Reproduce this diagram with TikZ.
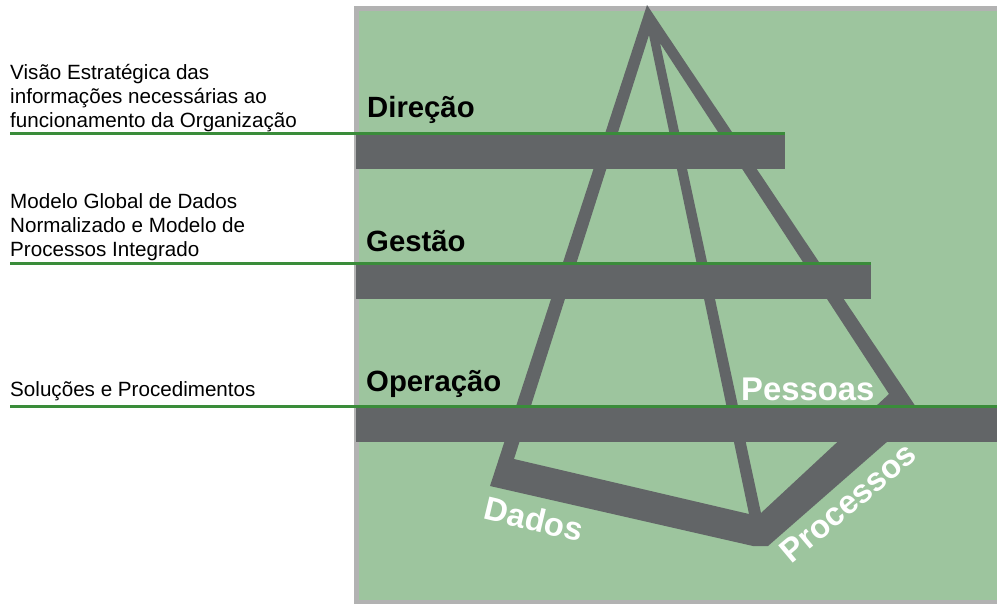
\documentclass[tikz,border=0pt]{standalone}
\usepackage{fontspec}
\setmainfont{Liberation Sans}
\usetikzlibrary{positioning}
\definecolor{panelgreen}{RGB}{157,197,158}
\definecolor{bargray}{RGB}{98,101,103}
\definecolor{rulegreen}{RGB}{58,140,58}
\definecolor{framegray}{RGB}{178,178,178}

\begin{document}
\begin{tikzpicture}[
    x=0.03cm, y=-0.03cm,
    note/.style={
		anchor=base west,
		inner sep=0,
		align=left,
		font=\fontsize{17.6}{20.6}\selectfont
	},
    level/.style={
		anchor=base west,
		inner sep=0,
		font=\fontsize{25}{28}\selectfont\bfseries
	},
    face/.style={
		inner sep=0,
		text=white,
		font=\fontsize{28}{32}\selectfont\bfseries
	},
    bar/.style={
		fill=bargray
	},
    rule/.style={
		draw=rulegreen,
		line width=0.08cm
	}
  ]
  \useasboundingbox (0,0) rectangle (997,603);

  % the green panel
  \fill[panelgreen] (356,9) rectangle (1003,603);
  \draw[framegray, line width=0.15cm] (356,8.6) rectangle (1003,602.6);

  % the pyramid
  \coordinate (apex) at (647,5);
  \coordinate (rfoot) at (920,413);
  \coordinate (mfootr) at (768,546);
  \coordinate (mfootl) at (753,546);
  \coordinate (lfoot) at (490,486);
  \coordinate (holeatop) at (649,35);
  \coordinate (holeal) at (514,459);
  \coordinate (holear) at (749,514);
  \coordinate (holebtop) at (660,43);
  \coordinate (holebl) at (761,513);
  \coordinate (holebr) at (889,394);
  \fill[bargray, even odd rule] (apex) -- (rfoot) -- (mfootr) -- (mfootl) -- (lfoot) -- cycle
    (holeatop) -- (holeal) -- (holear) -- cycle
    (holebtop) -- (holebl) -- (holebr) -- cycle;

  % the three levels
  \fill[bar] (356,134) rectangle (785,168.5);
  \fill[bar] (356,264) rectangle (871,299.3);
  \fill[bar] (356,407) rectangle (1003,441.7);
  \coordinate (dirend) at (785,133.3);
  \coordinate (gesend) at (871,263.3);
  \coordinate (opeend) at (1003,406.3);

  \node [level] (direcao) at (367,117.7) {Direção};
  \node [level] (gestao) at (366,251.7) {Gestão};
  \node [level] (operacao) at (366,391.7) {Operação};

  % notes on the left
  \node [note] (visao) at (10,127.5)
  {Visão Estratégica das\\informações necessárias ao\\funcionamento da Organização};
  \node [note] (modelo) at (10,256.5)
  {Modelo Global de Dados\\Normalizado e Modelo de\\Processos Integrado};
  \node [note] (solucoes) at (10,396)
  {Soluções e Procedimentos};

  \draw [rule] (visao.west |- dirend) -- (dirend);
  \draw [rule] (modelo.west |- gesend) -- (gesend);
  \draw [rule] (solucoes.west |- opeend) -- (opeend);

  % faces of the pyramid
  \node [face, anchor=base west] (pessoas) at (741,400) {Pessoas};
  \node [face, rotate=-13.5] (dados) at (534,519) {Dados};
  \node [face, rotate=40] (processos) at (848,503) {Processos};

\end{tikzpicture}
\end{document}
